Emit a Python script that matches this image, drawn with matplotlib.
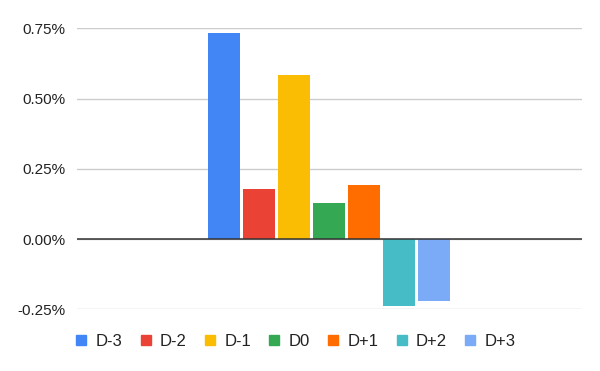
import matplotlib
matplotlib.use("Agg")
import matplotlib.pyplot as plt
from matplotlib.lines import Line2D
from matplotlib.ticker import FuncFormatter
import numpy as np

# series labels and values (percent)
series = ["D-3", "D-2", "D-1", "D0", "D+1", "D+2", "D+3"]
values = [0.732, 0.178, 0.584, 0.129, 0.193, -0.240, -0.222]
colors = ["#4285F4", "#EA4335", "#FBBC04", "#34A853", "#FF6D01", "#46BDC6", "#7BAAF7"]
yticks = [-0.25, 0.0, 0.25, 0.5, 0.75]

plt.rcParams["font.family"] = ["Liberation Sans", "DejaVu Sans"]
text_color = "#222222"

fig = plt.figure(figsize=(6, 3.71), dpi=100)
ax = fig.add_axes([0.128, 0.1663, 0.8415, 0.7574])

pitch = 0.0693
width = 0.0642
offsets = (np.arange(len(series)) - (len(series) - 1) / 2) * pitch
for off, v, c, name in zip(offsets, values, colors, series):
    ax.bar(off, v, width=width, color=c, label=name, zorder=2)

ax.set_xlim(-0.5, 0.5)
ax.set_ylim(-0.25, 0.75)
ax.set_yticks(yticks)
ax.yaxis.set_major_formatter(FuncFormatter(lambda v, p: f"{v:.2f}%"))
ax.set_xticks([])
ax.grid(axis="y", color="#cccccc", linewidth=1, zorder=0)
ax.axhline(0, color="#333333", linewidth=1.1, zorder=3)
for s in ax.spines.values():
    s.set_visible(False)
ax.tick_params(axis="y", length=0, pad=8, labelsize=11, labelcolor=text_color)

handles = [Line2D([], [], marker="s", linestyle="none", markersize=7.9,
                  markerfacecolor=c, markeredgecolor=c) for c in colors]
leg = fig.legend(handles, series, loc="center left", bbox_to_anchor=(0.1247, 0.0795),
                 ncol=len(series), frameon=False, fontsize=12,
                 handlelength=0.8, handletextpad=0.45, columnspacing=1.0,
                 borderaxespad=0, borderpad=0)
for t in leg.get_texts():
    t.set_color(text_color)

fig.savefig("out.png", dpi=100)
